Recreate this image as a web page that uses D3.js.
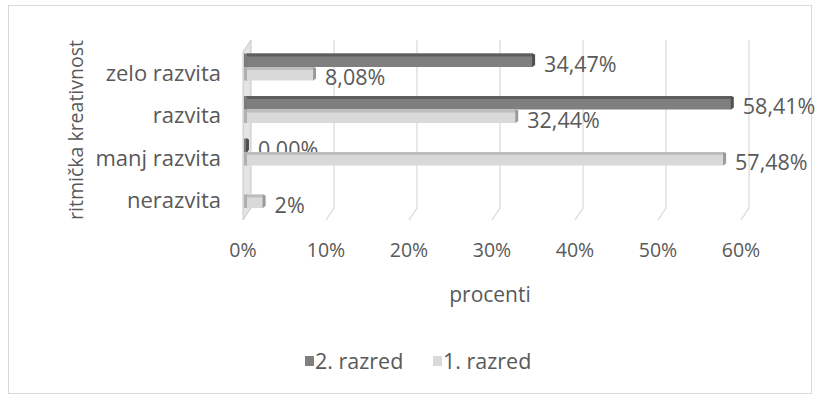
<!DOCTYPE html>
<html>
<head>
<meta charset="utf-8">
<script src="https://cdn.jsdelivr.net/npm/d3@7"></script>
<style>
  body { margin: 0; background: #fff; }
  text { font-family: "Open Sans", Lato, sans-serif; fill: #595959; }
</style>
</head>
<body>
<svg width="816" height="398"></svg>
<script>
// chart data
const categories = ["zelo razvita", "razvita", "manj razvita", "nerazvita"];
const seriesNames = ["2. razred", "1. razred"];
const razred2 = [34.47, 58.41, 0, null];
const razred1 = [8.08, 32.44, 57.48, 2];
const razred2Labels = ["34,47%", "58,41%", "0,00%", null];
const razred1Labels = ["8,08%", "32,44%", "57,48%", "2%"];
const xTicks = [0, 10, 20, 30, 40, 50, 60];

var svg = d3.select("svg");

// colours per series: front, top, end
var colours = {
    "2. razred": {front: "#7f7f7f", top: "#5e5e5e", end: "#4f4f4f"},
    "1. razred": {front: "#d9d9d9", top: "#bdbdbd", end: "#9a9a9a"}
};

// outer frame
svg.append("rect")
    .attr("x", 8.5).attr("y", 5.5)
    .attr("width", 803).attr("height", 388)
    .attr("fill", "#fff").attr("stroke", "#d9d9d9");

// scales: back wall, bar plane, front plane
var xBack = d3.scaleLinear().domain([0, 60]).range([251, 749]);
var xBar = d3.scaleLinear().domain([0, 60]).range([247, 745]);
var xFront = d3.scaleLinear().domain([0, 60]).range([243, 741]);

var y = d3.scaleBand().domain(categories).range([45.75, 215.75]);
var yInner = d3.scaleBand().domain(seriesNames)
    .range([7.75, y.bandwidth() - 7.75]);

var wallTop = 40, wallBottom = 208, floorDx = -8, floorDy = 12;

// gridlines on back wall + floor
var grid = svg.append("g").attr("class", "grid");
grid.selectAll("path")
    .data(xTicks.slice(1))
    .enter().append("path")
    .attr("d", function(d) {
        var x = xBack(d);
        return "M" + x + "," + wallTop + "V" + wallBottom +
               "l" + floorDx + "," + floorDy;
    })
    .attr("fill", "none")
    .attr("stroke", "#d9d9d9")
    .attr("stroke-width", 1.2);

// left side wall
svg.append("path")
    .attr("d", "M" + xBack(0) + "," + wallTop + "V" + wallBottom +
        "l" + floorDx + "," + floorDy + "V" + (wallTop + floorDy) + "Z")
    .attr("fill", "#e4e4e4")
    .attr("stroke", "#c8c8c8");

// bars
var rows = [];
categories.forEach(function(c, i) {
    rows.push({cat: c, s: "2. razred", v: razred2[i], label: razred2Labels[i]});
    rows.push({cat: c, s: "1. razred", v: razred1[i], label: razred1Labels[i]});
});
rows = rows.filter(function(d) { return d.v !== null; });

var depth = 3;
var bars = svg.append("g").attr("class", "bars")
    .selectAll("g")
    .data(rows)
    .enter().append("g");

// left end shadow on the wall
bars.append("rect")
    .attr("x", xBar(0) - 3)
    .attr("y", function(d) { return y(d.cat) + yInner(d.s); })
    .attr("width", 4)
    .attr("height", yInner.bandwidth())
    .attr("fill", function(d) { return colours[d.s].end; })
    .attr("opacity", 0.7);

bars.append("rect")
    .attr("x", xBar(0))
    .attr("y", function(d) { return y(d.cat) + yInner(d.s); })
    .attr("width", function(d) { return xBar(d.v) - xBar(0); })
    .attr("height", yInner.bandwidth())
    .attr("fill", function(d) { return colours[d.s].front; });

// top face
bars.append("path")
    .attr("d", function(d) {
        var x0 = xBar(0), x1 = xBar(d.v), yy = y(d.cat) + yInner(d.s);
        return "M" + x0 + "," + (yy + depth) + "L" + x1 + "," + (yy + depth) +
               "L" + x1 + "," + yy + "L" + x0 + "," + yy + "Z";
    })
    .attr("fill", function(d) { return colours[d.s].top; });

// end face
bars.append("path")
    .attr("d", function(d) {
        var x1 = xBar(d.v), yy = y(d.cat) + yInner(d.s), h = yInner.bandwidth();
        return "M" + (x1 - 1) + "," + yy + "L" + (x1 + 2) + "," + (yy + 1) +
               "L" + (x1 + 2) + "," + (yy + h - 2) + "L" + (x1 - 1) + "," + (yy + h) + "Z";
    })
    .attr("fill", function(d) { return colours[d.s].end; });

// value labels
bars.append("text")
    .attr("x", function(d) { return xBar(d.v) + 11; })
    .attr("y", function(d) { return y(d.cat) + yInner(d.s) + yInner.bandwidth() / 2 + 4; })
    .attr("dy", "0.35em")
    .attr("font-size", 21.5)
    .text(function(d) { return d.label; });

// category labels
svg.append("g")
    .selectAll("text")
    .data(categories)
    .enter().append("text")
    .attr("x", 221)
    .attr("y", function(d) { return y(d) + y.bandwidth() / 2 + 6; })
    .attr("dy", "0.35em")
    .attr("text-anchor", "end")
    .attr("font-size", 22)
    .text(function(d) { return d; });

// x tick labels
svg.append("g")
    .selectAll("text")
    .data(xTicks)
    .enter().append("text")
    .attr("x", function(d) { return xFront(d); })
    .attr("y", 250)
    .attr("dy", "0.35em")
    .attr("text-anchor", "middle")
    .attr("font-size", 19.5)
    .text(function(d) { return d + "%"; });

// axis titles
svg.append("text")
    .attr("x", 490).attr("y", 295)
    .attr("dy", "0.35em")
    .attr("text-anchor", "middle")
    .attr("font-size", 21)
    .text("procenti");

svg.append("text")
    .attr("transform", "translate(76,130) rotate(-90)")
    .attr("dy", "0.35em")
    .attr("text-anchor", "middle")
    .attr("font-size", 19.5)
    .text("ritmička kreativnost");

// legend
var legend = svg.append("g").selectAll("g")
    .data(seriesNames)
    .enter().append("g")
    .attr("transform", function(d, i) { return "translate(" + (305 + i * 128) + ",361)"; });
legend.append("rect")
    .attr("x", 0).attr("y", -5)
    .attr("width", 9).attr("height", 10)
    .attr("fill", function(d) { return colours[d].front; });
legend.append("text")
    .attr("x", 10)
    .attr("dy", "0.35em")
    .attr("font-size", 21.5)
    .text(function(d) { return d; });
</script>
</body>
</html>
